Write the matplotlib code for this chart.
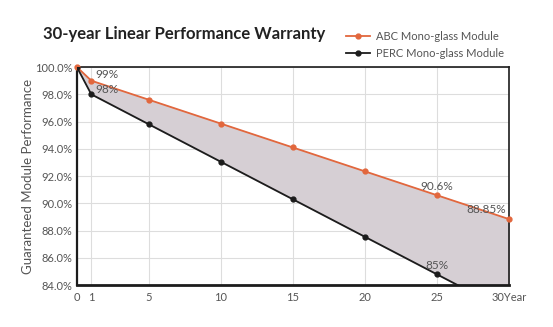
import matplotlib.pyplot as plt

plt.rcParams['font.family'] = ['Lato', 'DejaVu Sans']

years = [0, 1, 5, 10, 15, 20, 25, 30]
abc = [100, 99, 97.6, 95.85, 94.1, 92.35, 90.6, 88.85]
perc = [100, 98, 95.8, 93.05, 90.3, 87.55, 84.8, 82.05]
yticks = [84, 86, 88, 90, 92, 94, 96, 98, 100]
xlabels = ['0', '1', '5', '10', '15', '20', '25', '30Year']

orange = '#e2673d'
black = '#1c1c1c'
gray = '#555555'

fig = plt.figure(figsize=(5.53, 3.27), dpi=100)
ax = fig.add_axes([0.139, 0.128, 0.781, 0.667])

ax.fill_between(years, abc, perc, color='#d6cfd4', zorder=1)
ax.plot(years, abc, color=orange, marker='o', markersize=3.5, lw=1.3,
        label='ABC Mono-glass Module', zorder=3, clip_on=False)
ax.plot(years, perc, color=black, marker='o', markersize=3.5, lw=1.3,
        label='PERC Mono-glass Module', zorder=3)

ax.set_xlim(0, 30)
ax.set_ylim(84, 100)
ax.set_xticks(years)
ax.set_xticklabels(xlabels)
ax.set_yticks(yticks)
ax.set_yticklabels([f'{v:.1f}%' for v in yticks])
ax.grid(True, color='#dddddd', lw=0.8, zorder=0)
ax.set_axisbelow(True)
ax.tick_params(length=0, labelsize=8, labelcolor=gray, pad=3)
ax.tick_params(axis='x', pad=5)
for s in ax.spines.values():
    s.set_color(black)
    s.set_linewidth(1.2)
ax.spines['bottom'].set_linewidth(2)
ax.spines['left'].set_linewidth(1.6)
ax.set_ylabel('Guaranteed Module Performance', fontsize=9.5, color=gray)
ax.yaxis.set_label_coords(-0.1, 0.5)

# point labels
kw = dict(fontsize=8.5, color=gray)
ax.annotate('99%', (1, abc[1]), xytext=(3, 2), textcoords='offset points', **kw)
ax.annotate('98%', (1, perc[1]), xytext=(3, 1), textcoords='offset points', **kw)
ax.annotate('90.6%', (25, abc[6]), xytext=(0, 4), textcoords='offset points', ha='center', **kw)
ax.annotate('88.85%', (30, abc[7]), xytext=(-2, 4), textcoords='offset points', ha='right', **kw)
ax.annotate('85%', (25, perc[6]), xytext=(0, 4), textcoords='offset points', ha='center', **kw)

fig.text(0.078, 0.895, '30-year Linear Performance Warranty', fontsize=12,
         fontweight='bold', color='#222222', va='center')
fig.legend(loc='upper left', bbox_to_anchor=(0.607, 0.935), frameon=False,
           fontsize=8, handlelength=2.2, handletextpad=0.5, labelspacing=0.5,
           labelcolor=gray)

fig.savefig('out.png', dpi=100)
